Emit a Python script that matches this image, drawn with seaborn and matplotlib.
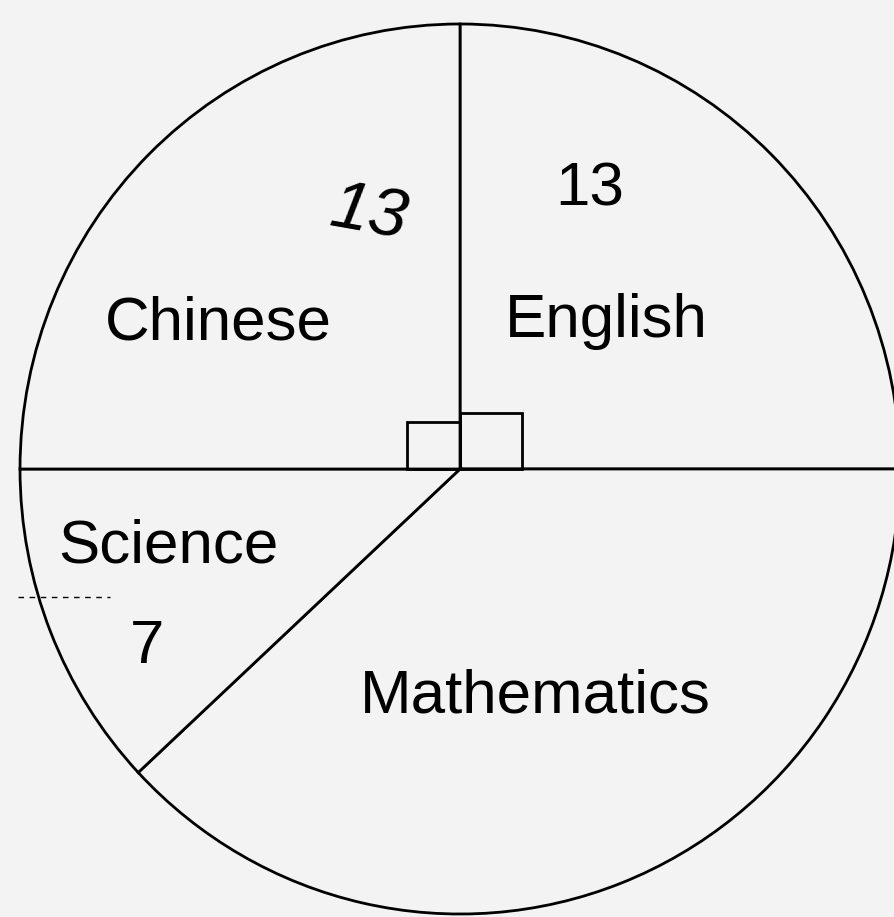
import matplotlib
matplotlib.use("Agg")
import matplotlib.pyplot as plt
from matplotlib.patches import Rectangle
import seaborn as sns

# wedge sizes (degrees, clockwise from the top)
subjects = ["English", "Mathematics", "Science", "Chinese"]
angles = [90, 137, 43, 90]

# numbers written on the chart
english_count = "13"
science_count = "7"
chinese_count = "13"  # handwritten

bg = "#f3f3f3"

sns.set_theme(style="white")
plt.rcParams["font.family"] = ["Liberation Sans", "DejaVu Sans"]
plt.rcParams["text.color"] = "black"

fig = plt.figure(figsize=(8.95, 9.17), dpi=100, facecolor=bg)
ax = fig.add_axes([0, 0, 1, 1])
ax.set_facecolor(bg)

ax.pie(angles, startangle=90, counterclock=False, radius=1,
       colors=[bg] * len(angles),
       wedgeprops=dict(edgecolor="black", linewidth=2.0))

ax.set_aspect("auto")
ax.set_xlim(-1.0455, 0.9886)
ax.set_ylim(-1.0067, 1.0539)
ax.axis("off")

# right-angle markers at the centre
ax.add_patch(Rectangle((-0.120, 0), 0.120, 0.106, fill=False,
                       edgecolor="black", linewidth=2.0))
ax.add_patch(Rectangle((0, 0), 0.141, 0.126, fill=False,
                       edgecolor="black", linewidth=2.0))

fs = 44.6
ax.text(-0.55, 0.2899, subjects[3], fontsize=fs, ha="center", va="baseline")
ax.text(0.3318, 0.2966, subjects[0], fontsize=fs, ha="center", va="baseline")
ax.text(-0.6636, -0.2090, subjects[2], fontsize=fs, ha="center", va="baseline")
ax.text(0.1705, -0.5461, subjects[1], fontsize=fs, ha="center", va="baseline")

ax.text(0.2955, 0.5910, english_count, fontsize=fs, ha="center", va="baseline")
ax.text(-0.7114, -0.4360, science_count, fontsize=fs, ha="center", va="baseline")
ax.text(-0.2091, 0.5708, chinese_count, fontsize=50, style="italic",
        ha="center", va="center", rotation=-10)

# faint dashed mark near the science label
ax.plot([-1.0045, -0.795], [-0.2876, -0.2876], color="black",
        linestyle=(0, (4, 4)), linewidth=1)

fig.savefig("out.png", dpi=100, facecolor=bg)
